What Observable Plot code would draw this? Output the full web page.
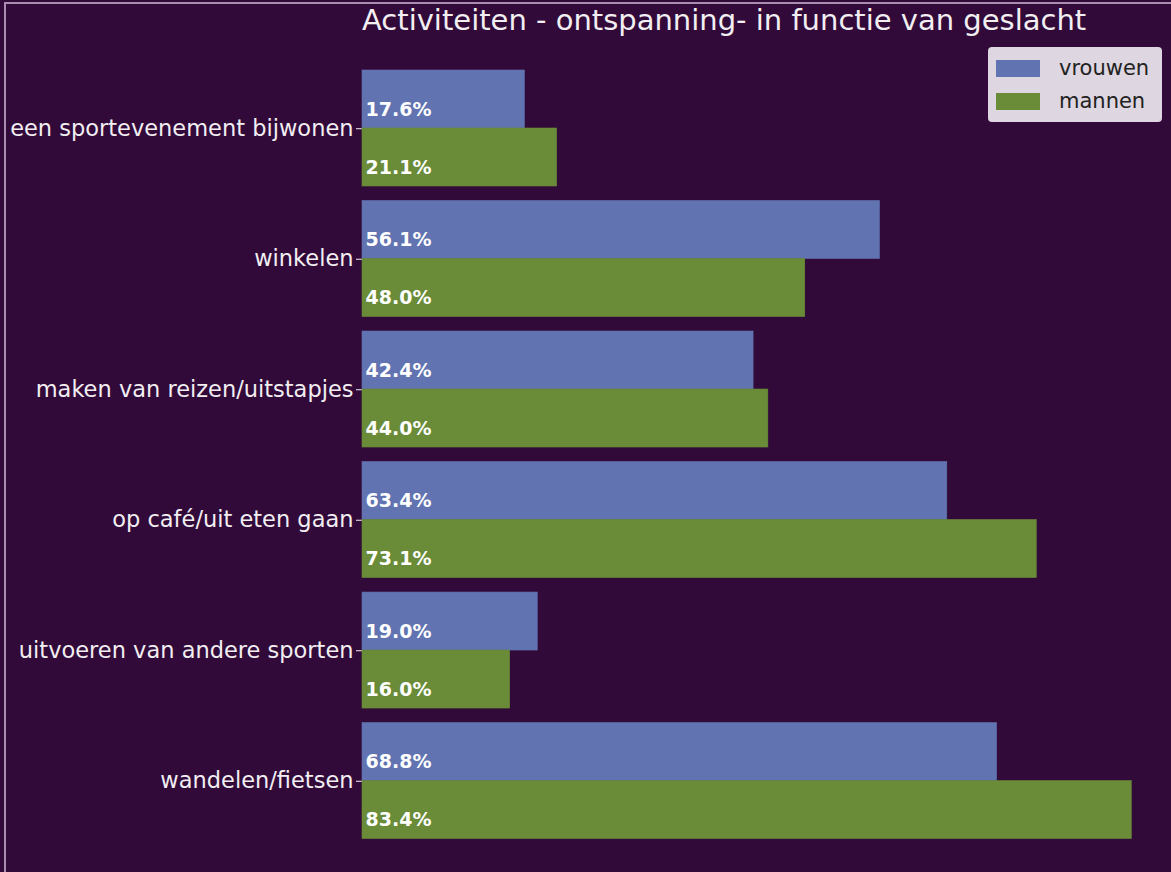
<!DOCTYPE html>
<html>
<head>
<meta charset="utf-8">
<script src="https://cdn.jsdelivr.net/npm/d3@7"></script>
<script src="https://cdn.jsdelivr.net/npm/@observablehq/plot@0.6"></script>
<style>
  html, body { margin: 0; padding: 0; }
  body { width: 1171px; height: 872px; background: #310a39; position: relative; overflow: hidden; font-family: "DejaVu Sans", sans-serif; }
  #frame { position: absolute; left: 4px; top: 2px; right: 0; bottom: 0; border-top: 2px solid #a98cae; border-left: 2px solid #a98cae; pointer-events: none; }
  #title { position: absolute; left: 362px; top: 3px; font-size: 29px; color: #f2eef2; white-space: nowrap; }
  #legend { position: absolute; left: 988px; top: 47px; width: 174px; height: 75px; background: rgba(232,226,234,0.95); border-radius: 4px; box-sizing: border-box; }
  .item { position: absolute; left: 8px; height: 20px; display: flex; align-items: center; }
  .sw { width: 44px; height: 17px; margin-right: 19px; }
  .lab { font-size: 21px; color: #222; }
  #chart { position: absolute; left: 0; top: 0; }
</style>
</head>
<body>
<div id="chart"></div>
<div id="frame"></div>
<div id="title">Activiteiten - ontspanning- in functie van geslacht</div>
<div id="legend"></div>
<script>
const categories = [
  "een sportevenement bijwonen",
  "winkelen",
  "maken van reizen/uitstapjes",
  "op café/uit eten gaan",
  "uitvoeren van andere sporten",
  "wandelen/fietsen"
];
const vrouwen = [17.6, 56.1, 42.4, 63.4, 19.0, 68.8];
const mannen = [21.1, 48.0, 44.0, 73.1, 16.0, 83.4];
const genders = ["vrouwen", "mannen"];
const colors = ["#6173b0", "#6a8b37"];

const data = [];
categories.forEach((c, i) => {
  data.push({category: c, gender: "vrouwen", value: vrouwen[i]});
  data.push({category: c, gender: "mannen", value: mannen[i]});
});

const chart = Plot.plot({
  width: 1171,
  height: 872,
  marginLeft: 362,
  marginRight: 1,
  marginTop: 70,
  marginBottom: 33,
  style: {background: "transparent", color: "#f2eef2", fontFamily: "DejaVu Sans, sans-serif", fontSize: "22.5px"},
  x: {domain: [0, 87.6], axis: null},
  y: {domain: genders, axis: null, padding: 0},
  fy: {domain: categories, paddingInner: 0.1077, paddingOuter: 0, round: false, axis: "left", label: null, tickSize: 6, tickPadding: 3},
  color: {domain: genders, range: colors},
  marks: [
    Plot.barX(data, {x: "value", y: "gender", fy: "category", fill: "gender", stroke: "gender", strokeWidth: 0.6}),
    Plot.text(data, {
      x: 0, y: "gender", fy: "category",
      text: d => d.value.toFixed(1) + "%",
      textAnchor: "start", dx: 3, dy: 10,
      fill: "white", fontWeight: "bold", fontSize: 19
    })
  ]
});
document.getElementById("chart").appendChild(chart);

const legend = document.getElementById("legend");
genders.forEach((g, i) => {
  const item = document.createElement("div");
  item.className = "item";
  item.style.top = (i === 0 ? 11 : 44) + "px";
  const sw = document.createElement("div");
  sw.className = "sw";
  sw.style.background = colors[i];
  const lab = document.createElement("span");
  lab.className = "lab";
  lab.textContent = g;
  item.appendChild(sw);
  item.appendChild(lab);
  legend.appendChild(item);
});
</script>
</body>
</html>
